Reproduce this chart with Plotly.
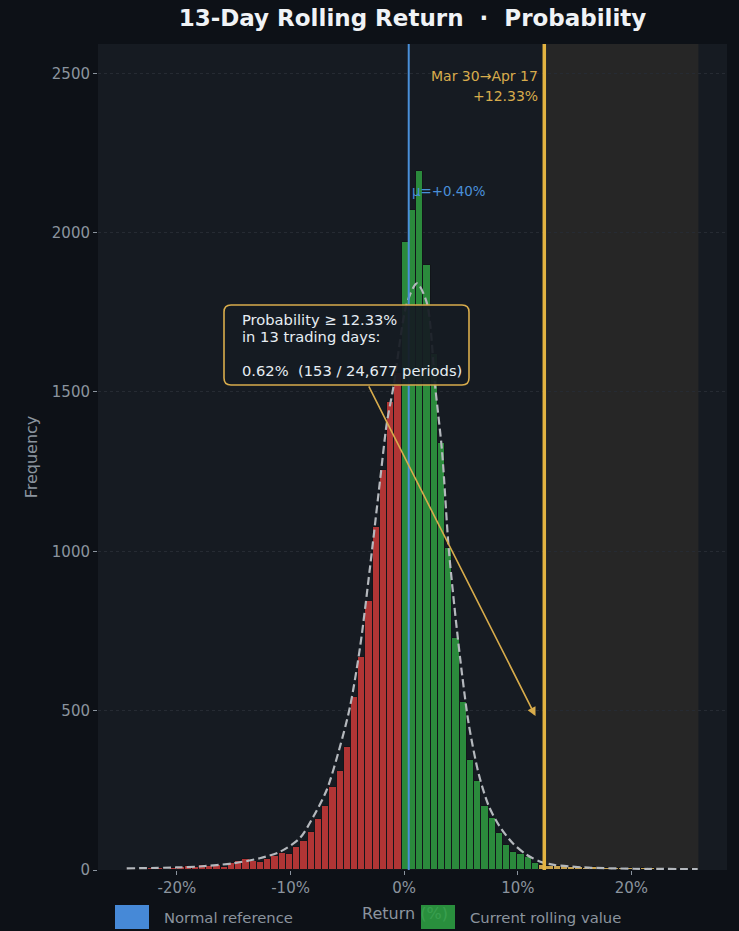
import plotly.graph_objects as go

# ---------------- data ----------------
title_text = "13-Day Rolling Return\u00a0 ·\u00a0 Probability"
bin_start = -24.43          # left edge of first histogram bin (%)
bin_width = 0.637           # histogram bin width (%)
counts = [
    6, 3, 4, 5, 6, 4, 7, 9, 12, 10, 15, 12, 17, 10, 21, 27, 34, 29, 25, 34,
    44, 54, 50, 73, 92, 120, 161, 201, 261, 312, 387, 542, 669, 845, 1077,
    1255, 1469, 1560,
    1970, 2071, 2192, 1899, 1620, 1340, 1010, 728, 528, 345, 278, 200, 164,
    117, 79, 57, 50, 40, 21,
    17, 13, 11, 12, 9, 10, 7, 8, 7, 7, 6, 6, 5, 5, 5, 5, 4, 4, 4, 3, 3, 2,
]
curve_x = [-24.42, -20.06, -18.0, -15.07, -12.71, -10.94, -9.18, -8.0, -6.82,
           -5.65, -4.77, -3.88, -3.0, -2.12, -1.53, -0.94, 0.24, 1.12, 2.0,
           2.74, 3.33, 3.91, 4.5, 5.09, 5.68, 6.56, 7.44, 8.38, 9.58, 10.77,
           12.0, 13.18, 15.83, 20.21, 25.83]
curve_y = [5, 8, 11, 21, 37, 57, 100, 167, 251, 387, 512, 700, 952, 1224,
           1402, 1517, 1779, 1841, 1779, 1513, 1315, 1013, 800, 615, 458, 301,
           201, 138, 83, 48, 26, 16, 8, 4, 3]
mu = 0.40
current = 12.33
window_label = "Mar 30→Apr 17"
hits = 153
total = 24677
days = 13
x_ticks = [-20, -10, 0, 10, 20]
y_ticks = [0, 500, 1000, 1500, 2000, 2500]
legend_labels = ["Normal reference", "Current rolling value"]

# ---------------- styles ----------------
FONT = "DejaVu Sans"
BG = "#0d1117"
PLOT_BG = "#161b22"
RED = "#b03535"
GREEN = "#2b8a3c"
GOLD_BAR = "#c9a24e"
GOLD = "#e3b341"
GOLD_TXT = "#d8ac4c"
BLUE = "#4a90d9"
GREY = "#8b949e"

W, H = 739, 931
L, R, T, B = 98, 12, 44, 61
PW, PH = W - L - R, H - T - B

centers, colors = [], []
for i, c in enumerate(counts):
    left = bin_start + i * bin_width
    ctr = left + bin_width / 2
    centers.append(ctr)
    if ctr < 0:
        colors.append(RED)
    elif left + bin_width > current:
        colors.append(GOLD_BAR)
    else:
        colors.append(GREEN)
data_max = bin_start + len(counts) * bin_width
pad = 0.05 * (data_max - bin_start)
x_range = [bin_start - pad, data_max + pad]
y_range = [0, 2592]


def px(xp):
    return (xp - L) / PW


def py(yp):
    return (H - B - yp) / PH


fig = go.Figure()
fig.add_trace(go.Bar(
    x=centers, y=counts, width=bin_width,
    marker=dict(color=colors, line=dict(color="#12151a", width=1)),
    showlegend=False, hoverinfo="skip",
))
fig.add_trace(go.Scatter(
    x=curve_x, y=curve_y, mode="lines",
    line=dict(color="#b4b8bd", width=2.2, dash="8px,4px", shape="spline", smoothing=0.8),
    showlegend=False, hoverinfo="skip",
))

shapes = [
    dict(type="rect", xref="x", yref="paper", x0=current, x1=data_max, y0=0, y1=1,
         fillcolor="#262626", line=dict(width=0), layer="below"),
    dict(type="line", xref="x", yref="paper", x0=mu, x1=mu, y0=0, y1=1,
         line=dict(color=BLUE, width=2), layer="above"),
    dict(type="line", xref="x", yref="paper", x0=current, x1=current, y0=0, y1=1,
         line=dict(color=GOLD, width=3.5), layer="above"),
]

# rounded info box
bx0, by0, bx1, by1, rr = 224, 305, 469, 385, 7
def rpath(x0, y0, x1, y1, r):
    def P(a, b):
        return f"{px(a):.5f},{py(b):.5f}"
    s = f"M {P(x0 + r, y0)} L {P(x1 - r, y0)} Q {P(x1, y0)} {P(x1, y0 + r)} "
    s += f"L {P(x1, y1 - r)} Q {P(x1, y1)} {P(x1 - r, y1)} "
    s += f"L {P(x0 + r, y1)} Q {P(x0, y1)} {P(x0, y1 - r)} "
    s += f"L {P(x0, y0 + r)} Q {P(x0, y0)} {P(x0 + r, y0)} Z"
    return s

annotations = []
# arrow from box to current value
annotations.append(dict(
    xref="x", yref="y", x=current - 0.77, y=483,
    axref="x", ayref="y", ax=-3.18, ay=1522,
    text="", showarrow=True, arrowhead=2, arrowsize=1.1, arrowwidth=1.6,
    arrowcolor=GOLD_TXT, standoff=0,
))
shapes.append(dict(type="path", xref="paper", yref="paper", path=rpath(bx0, by0, bx1, by1, rr),
                   fillcolor="rgba(22,27,34,0.93)", line=dict(color=GOLD_TXT, width=1.6),
                   layer="above"))

box_lines = [
    (f"Probability ≥ {current:.2f}%", 319),
    (f"in {days} trading days:", 336),
    (f"{hits / total * 100:.2f}%\u00a0 ({hits} / {total:,} periods)", 370),
]
for txt, yp in box_lines:
    annotations.append(dict(
        xref="paper", yref="paper", x=px(240), y=py(yp), xanchor="left", yanchor="middle",
        text=txt, showarrow=False, font=dict(family=FONT, size=14.7, color="#e6edf3"),
    ))

# window label
for txt, yp in [(window_label, 76), (f"+{current:.2f}%", 96)]:
    annotations.append(dict(
        xref="x", yref="paper", x=current, xshift=-4, y=py(yp), xanchor="right", yanchor="middle",
        text=txt, showarrow=False, font=dict(family=FONT, size=14, color=GOLD_TXT),
    ))

# mu label
annotations.append(dict(
    xref="x", yref="paper", x=mu, xshift=1, y=py(192), xanchor="left", yanchor="middle",
    text=f"μ=+{mu:.2f}%", showarrow=False, font=dict(family=FONT, size=13.4, color=BLUE),
))

# x axis title (as annotation so legend patch can overlap it)
annotations.append(dict(
    xref="paper", yref="paper", x=px(405), y=py(913), xanchor="center", yanchor="middle",
    text="Return (%)", showarrow=False, font=dict(family=FONT, size=16, color=GREY),
))

# legend
for lbl, col, pcx, tx in [(legend_labels[0], "rgba(74,144,226,0.95)", 132, 162),
                          (legend_labels[1], "rgba(46,160,67,0.88)", 438, 468)]:
    annotations.append(dict(
        xref="paper", yref="paper", x=px(pcx), y=py(917), xanchor="center", yanchor="middle",
        text=" ", showarrow=False, width=34, height=24, bgcolor=col, borderpad=0, borderwidth=0,
    ))
    annotations.append(dict(
        xref="paper", yref="paper", x=px(tx), y=py(917), xanchor="left", yanchor="middle",
        text=lbl, showarrow=False, font=dict(family=FONT, size=14.8, color=GREY),
    ))

fig.update_layout(
    width=W, height=H,
    margin=dict(l=L, r=R, t=T, b=B),
    paper_bgcolor=BG, plot_bgcolor=PLOT_BG,
    font=dict(family=FONT, color=GREY),
    title=dict(text=f"<b>{title_text}</b>", x=0.5, xref="paper", y=1 - 18 / H,
               yanchor="middle", xanchor="center",
               font=dict(family=FONT, size=23, color="#f0f3f6")),
    shapes=shapes, annotations=annotations,
    bargap=0, showlegend=False,
    xaxis=dict(range=x_range, tickvals=x_ticks, ticktext=[f"{v}%" for v in x_ticks],
               tickfont=dict(size=15, color=GREY), ticks="outside", ticklen=4,
               tickcolor=GREY, showgrid=False, zeroline=False, showline=False),
    yaxis=dict(range=y_range, tickvals=y_ticks, tickfont=dict(size=15, color=GREY),
               ticks="outside", ticklen=4, tickcolor=GREY,
               showgrid=True, gridcolor="#262b33", griddash="dot", gridwidth=1,
               zeroline=False, showline=False,
               title=dict(text="Frequency", font=dict(size=16, color=GREY), standoff=10)),
)

fig.write_html(
    "out.html",
    config={"displayModeBar": False},
    post_script="document.body.style.margin='0';document.body.style.background='#0d1117';"
                "document.body.style.overflow='hidden';",
)
